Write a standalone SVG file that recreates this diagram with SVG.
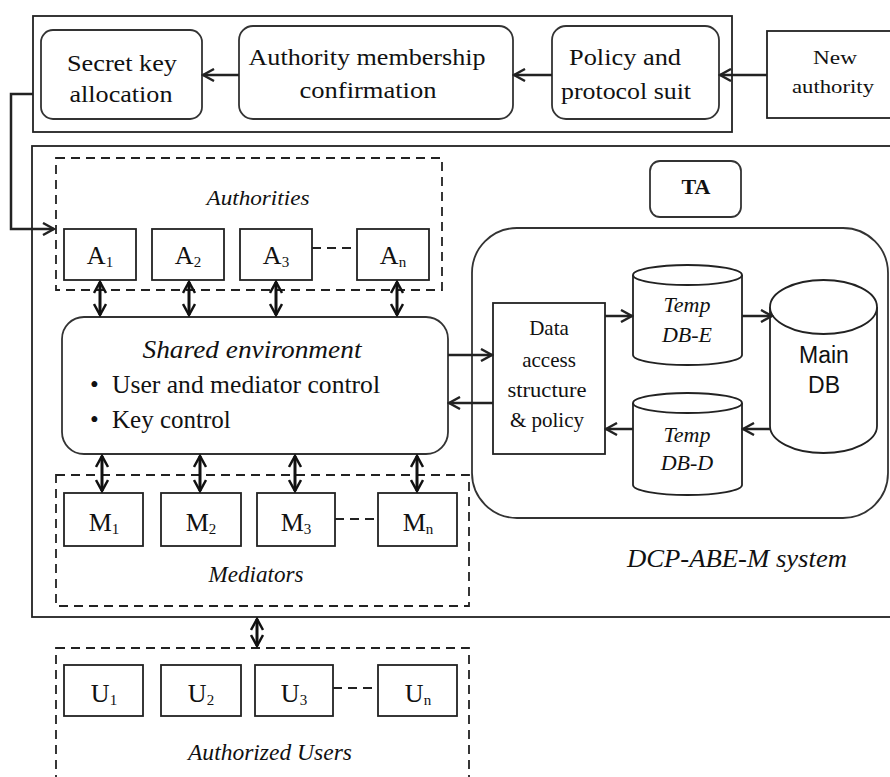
<svg xmlns="http://www.w3.org/2000/svg" width="890" height="777" viewBox="0 0 890 777">
<style>
text{font-family:"Liberation Serif","Times New Roman",serif;fill:#111}
.box{fill:#fff;stroke:#222;stroke-width:1.8}
.rbox{fill:#fff;stroke:#333;stroke-width:1.8}
.dash{fill:none;stroke:#222;stroke-width:1.8;stroke-dasharray:9 6}
.conn{fill:none;stroke:#222;stroke-width:2.5}
.dbl{fill:none;stroke:#111;stroke-width:3;marker-start:url(#ah2);marker-end:url(#ah2)}
.arr{marker-end:url(#ah)}
.it{font-style:italic}
.c{text-anchor:middle}
.sans{font-family:"Liberation Sans",Arial,sans-serif}
.lbl{font-size:26px}
.sub{font-size:15px}
.dl{fill:none;stroke:#222;stroke-width:1.8;stroke-dasharray:9 6}
</style>
<defs>
<marker id="ah" viewBox="0 0 14 14" refX="12" refY="7" markerWidth="14" markerHeight="14" markerUnits="userSpaceOnUse" orient="auto-start-reverse">
<path d="M1,1 L12,7 L1,13" fill="none" stroke="#222" stroke-width="2.4"/>
</marker>
<marker id="ah2" viewBox="0 0 14 14" refX="12" refY="7" markerWidth="14" markerHeight="14" markerUnits="userSpaceOnUse" orient="auto-start-reverse">
<path d="M1,1 L12,7 L1,13" fill="none" stroke="#111" stroke-width="2.5"/>
</marker>
</defs>

<g id="top-frame">
<rect class="box" x="33" y="16" width="699" height="116"/>
</g>
<g id="secret-key">
<rect class="rbox" x="41" y="30" width="161" height="89" rx="12"/>
<text class="c" x="122" y="71" font-size="24" textLength="110" lengthAdjust="spacingAndGlyphs">Secret key</text>
<text class="c" x="121" y="102" font-size="24" textLength="103" lengthAdjust="spacingAndGlyphs">allocation</text>
</g>
<g id="authority-membership">
<rect class="rbox" x="239" y="26" width="274" height="93" rx="14"/>
<text class="c" x="367" y="65" font-size="24" textLength="237" lengthAdjust="spacingAndGlyphs">Authority membership</text>
<text class="c" x="368" y="98" font-size="24" textLength="137" lengthAdjust="spacingAndGlyphs">confirmation</text>
</g>
<g id="policy">
<rect class="rbox" x="552" y="26" width="167" height="93" rx="14"/>
<text class="c" x="625" y="65" font-size="24" textLength="112" lengthAdjust="spacingAndGlyphs">Policy and</text>
<text class="c" x="626" y="99" font-size="24" textLength="130" lengthAdjust="spacingAndGlyphs">protocol suit</text>
</g>
<g id="new-authority">
<rect class="box" x="767" y="31" width="140" height="87"/>
<text class="c" x="835" y="64" font-size="19" textLength="44" lengthAdjust="spacingAndGlyphs">New</text>
<text class="c" x="833" y="93" font-size="19" textLength="82" lengthAdjust="spacingAndGlyphs">authority</text>
</g>

<g id="main-frame">
<rect class="box" x="32" y="146" width="880" height="471"/>
</g>

<g id="authorities">
<rect class="dash" x="56" y="158" width="386" height="132"/>
<text class="c it" x="258" y="205" font-size="22" textLength="103" lengthAdjust="spacingAndGlyphs">Authorities</text>
</g>
<g id="A1"><rect class="box" x="64" y="229" width="72" height="51"/><text class="c lbl" x="100" y="264">A<tspan class="sub" dy="3">1</tspan></text></g>
<g id="A2"><rect class="box" x="152" y="229" width="72" height="51"/><text class="c lbl" x="188" y="264">A<tspan class="sub" dy="3">2</tspan></text></g>
<g id="A3"><rect class="box" x="240" y="229" width="72" height="51"/><text class="c lbl" x="276" y="264">A<tspan class="sub" dy="3">3</tspan></text></g>
<g id="An"><rect class="box" x="357" y="229" width="72" height="51"/><text class="c lbl" x="393" y="264">A<tspan class="sub" dy="3">n</tspan></text></g>

<g id="shared-environment">
<rect class="rbox" x="62" y="317" width="386" height="137" rx="22"/>
<text class="c it" x="252" y="358" font-size="26" textLength="219" lengthAdjust="spacingAndGlyphs">Shared environment</text>
<text x="90" y="393" font-size="25">•</text>
<text x="112" y="393" font-size="25" textLength="268" lengthAdjust="spacingAndGlyphs">User and mediator control</text>
<text x="90" y="428" font-size="25">•</text>
<text x="112" y="428" font-size="25">Key control</text>
</g>

<g id="mediators">
<rect class="dash" x="56" y="475" width="413" height="131"/>
<text class="c it" x="256" y="582" font-size="23" textLength="95" lengthAdjust="spacingAndGlyphs">Mediators</text>
</g>
<g id="M1"><rect class="box" x="64" y="493" width="79" height="53"/><text class="c lbl" x="104" y="531">M<tspan class="sub" dy="3">1</tspan></text></g>
<g id="M2"><rect class="box" x="161" y="493" width="80" height="53"/><text class="c lbl" x="201" y="531">M<tspan class="sub" dy="3">2</tspan></text></g>
<g id="M3"><rect class="box" x="257" y="493" width="78" height="53"/><text class="c lbl" x="296" y="531">M<tspan class="sub" dy="3">3</tspan></text></g>
<g id="Mn"><rect class="box" x="378" y="493" width="79" height="53"/><text class="c lbl" x="418" y="531">M<tspan class="sub" dy="3">n</tspan></text></g>

<g id="authorized-users">
<rect class="dash" x="56" y="648" width="413" height="150"/>
<text class="c it" x="270" y="760" font-size="23.5" textLength="164" lengthAdjust="spacingAndGlyphs">Authorized Users</text>
</g>
<g id="U1"><rect class="box" x="64" y="665" width="79" height="51"/><text class="c lbl" x="104" y="702">U<tspan class="sub" dy="3">1</tspan></text></g>
<g id="U2"><rect class="box" x="161" y="665" width="80" height="51"/><text class="c lbl" x="201" y="702">U<tspan class="sub" dy="3">2</tspan></text></g>
<g id="U3"><rect class="box" x="255" y="665" width="78" height="51"/><text class="c lbl" x="294" y="702">U<tspan class="sub" dy="3">3</tspan></text></g>
<g id="Un"><rect class="box" x="378" y="665" width="79" height="51"/><text class="c lbl" x="418" y="702">U<tspan class="sub" dy="3">n</tspan></text></g>

<g id="TA">
<rect class="rbox" x="650" y="161" width="91" height="56" rx="10"/>
<text class="c" x="696" y="194" font-size="22" font-weight="bold">TA</text>
</g>
<g id="dcp-abe-m-system">
<rect class="rbox" x="472" y="228" width="416" height="290" rx="45"/>
<text class="c it" x="737" y="567" font-size="26" textLength="220" lengthAdjust="spacingAndGlyphs">DCP-ABE-M system</text>
</g>
<g id="data-access">
<rect class="box" x="493" y="303" width="112" height="151"/>
<text class="c" x="549" y="335" font-size="21">Data</text>
<text class="c" x="549" y="367" font-size="21">access</text>
<text class="c" x="547" y="397" font-size="21" textLength="79" lengthAdjust="spacingAndGlyphs">structure</text>
<text class="c" x="547" y="427" font-size="21">&amp; policy</text>
</g>
<g id="temp-db-e">
<path class="box" d="M633,275 L633,355 A54.5,10 0 0,0 742,355 L742,275"/>
<ellipse class="box" cx="687.5" cy="275" rx="54.5" ry="10"/>
<text class="c it" x="687" y="312" font-size="22">Temp</text>
<text class="c it" x="687" y="342" font-size="22">DB-E</text>
</g>
<g id="temp-db-d">
<path class="box" d="M633,403 L633,485 A54.5,10 0 0,0 742,485 L742,403"/>
<ellipse class="box" cx="687.5" cy="403" rx="54.5" ry="10"/>
<text class="c it" x="687" y="442" font-size="22">Temp</text>
<text class="c it" x="687" y="470" font-size="22">DB-D</text>
</g>
<g id="main-db">
<path class="box" d="M770,307 L770,426 A53.5,27 0 0,0 877,426 L877,307"/>
<ellipse class="box" cx="823.5" cy="307" rx="53.5" ry="27"/>
<text class="c sans" x="824" y="363" font-size="23">Main</text>
<text class="c sans" x="824" y="393" font-size="23">DB</text>
</g>

<g id="connectors">
<path class="conn arr" d="M239,75 L203,75"/>
<path class="conn arr" d="M552,75 L514,75"/>
<path class="conn arr" d="M767,75 L720,75"/>
<path class="conn arr" d="M33,94 L11,94 L11,229 L54,229"/>
<path class="dl" d="M312,248 L357,248"/>
<path class="dl" d="M335,519 L378,519"/>
<path class="dl" d="M333,688 L378,688"/>
<path class="dbl" d="M100,282 L100,315"/>
<path class="dbl" d="M189,282 L189,315"/>
<path class="dbl" d="M276,282 L276,315"/>
<path class="dbl" d="M397,282 L397,315"/>
<path class="dbl" d="M102,456 L102,491"/>
<path class="dbl" d="M200,456 L200,491"/>
<path class="dbl" d="M295,456 L295,491"/>
<path class="dbl" d="M417,456 L417,491"/>
<path class="dbl" d="M257,619 L257,646"/>
<path class="conn arr" d="M448,355 L492,355"/>
<path class="conn arr" d="M493,403 L449,403"/>
<path class="conn arr" d="M605,316 L632,316"/>
<path class="conn arr" d="M742,316 L772,316"/>
<path class="conn arr" d="M770,429 L743,429"/>
<path class="conn arr" d="M633,429 L606,429"/>
</g>
</svg>
